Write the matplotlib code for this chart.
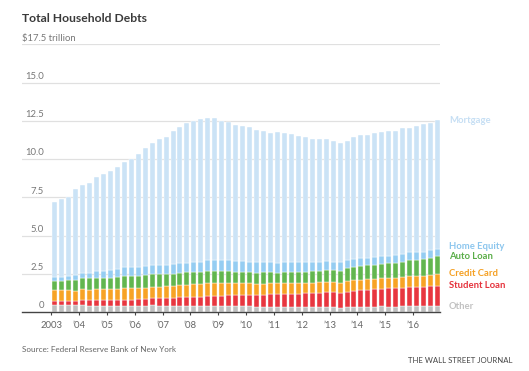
import numpy as np
import matplotlib
matplotlib.use("Agg")
import matplotlib.pyplot as plt
from matplotlib.transforms import blended_transform_factory

plt.rcParams['font.family'] = ['Lato', 'DejaVu Sans']

# Quarterly, 2003 Q1 .. 2016 Q4 (trillions of dollars)
years = ['2003', '\u201904', '\u201905', '\u201906', '\u201907', '\u201908', '\u201909',
         '\u201910', '\u201911', '\u201912', '\u201913', '\u201914', '\u201915', '\u201916']

other = [0.48, 0.49, 0.48, 0.45, 0.45, 0.42, 0.42, 0.42, 0.41, 0.42, 0.41, 0.42,
         0.42, 0.42, 0.44, 0.41, 0.42, 0.41, 0.42, 0.41, 0.42, 0.41, 0.42, 0.41,
         0.41, 0.41, 0.40, 0.39, 0.37, 0.35, 0.35, 0.34, 0.33, 0.33, 0.33, 0.33,
         0.33, 0.31, 0.31, 0.32, 0.31, 0.23, 0.31, 0.32, 0.33, 0.34, 0.35, 0.36,
         0.35, 0.35, 0.37, 0.38, 0.37, 0.38, 0.39, 0.39]
student_loan = [0.24, 0.24, 0.25, 0.25, 0.34, 0.35, 0.35, 0.36, 0.39, 0.39, 0.40, 0.39,
                0.43, 0.44, 0.45, 0.48, 0.51, 0.51, 0.53, 0.55, 0.58, 0.58, 0.61, 0.64,
                0.66, 0.68, 0.69, 0.72, 0.76, 0.76, 0.78, 0.81, 0.84, 0.85, 0.87, 0.87,
                0.90, 0.91, 0.96, 0.97, 0.99, 0.99, 1.03, 1.08, 1.11, 1.12, 1.13, 1.16,
                1.19, 1.19, 1.20, 1.23, 1.26, 1.26, 1.28, 1.31]
credit_card = [0.69, 0.69, 0.69, 0.70, 0.70, 0.70, 0.71, 0.72, 0.71, 0.72, 0.73, 0.74,
               0.72, 0.74, 0.75, 0.77, 0.76, 0.78, 0.80, 0.82, 0.82, 0.84, 0.85, 0.87,
               0.84, 0.82, 0.81, 0.80, 0.76, 0.74, 0.73, 0.73, 0.70, 0.70, 0.70, 0.70,
               0.68, 0.68, 0.67, 0.68, 0.66, 0.67, 0.67, 0.68, 0.66, 0.67, 0.68, 0.70,
               0.68, 0.70, 0.71, 0.73, 0.71, 0.73, 0.75, 0.78]
auto_loan = [0.64, 0.62, 0.68, 0.70, 0.72, 0.74, 0.75, 0.73, 0.73, 0.77, 0.83, 0.79,
             0.79, 0.80, 0.82, 0.82, 0.79, 0.81, 0.82, 0.81, 0.80, 0.81, 0.81, 0.79,
             0.78, 0.75, 0.74, 0.72, 0.71, 0.72, 0.73, 0.73, 0.71, 0.73, 0.73, 0.73,
             0.73, 0.75, 0.77, 0.78, 0.79, 0.81, 0.84, 0.86, 0.88, 0.91, 0.93, 0.95,
             0.96, 0.99, 1.02, 1.06, 1.07, 1.10, 1.14, 1.16]
home_equity = [0.24, 0.26, 0.27, 0.30, 0.33, 0.37, 0.43, 0.47, 0.50, 0.53, 0.54, 0.57,
               0.58, 0.59, 0.60, 0.60, 0.61, 0.61, 0.62, 0.63, 0.64, 0.66, 0.68, 0.70,
               0.71, 0.71, 0.71, 0.71, 0.68, 0.67, 0.66, 0.65, 0.64, 0.64, 0.63, 0.62,
               0.61, 0.60, 0.59, 0.56, 0.55, 0.54, 0.53, 0.53, 0.53, 0.52, 0.51, 0.51,
               0.51, 0.49, 0.49, 0.49, 0.49, 0.48, 0.47, 0.47]
mortgage = [4.93, 5.06, 5.13, 5.63, 5.73, 5.87, 6.16, 6.32, 6.45, 6.62, 6.87, 7.09,
            7.42, 7.74, 8.02, 8.21, 8.37, 8.70, 8.92, 9.11, 9.24, 9.29, 9.29, 9.25,
            9.11, 9.03, 8.90, 8.80, 8.79, 8.68, 8.58, 8.42, 8.52, 8.45, 8.40, 8.28,
            8.17, 8.08, 7.98, 8.03, 7.89, 7.84, 7.83, 8.00, 8.09, 8.04, 8.09, 8.10,
            8.13, 8.10, 8.23, 8.17, 8.29, 8.31, 8.30, 8.46]

series = [
    ('Other', other, '#bfbfbf', '#c2c2c2'),
    ('Student Loan', student_loan, '#e8363f', '#e5323c'),
    ('Credit Card', credit_card, '#f7a325', '#f5a023'),
    ('Auto Loan', auto_loan, '#62b64f', '#5aad48'),
    ('Home Equity', home_equity, '#95cdf2', '#8cc6ee'),
    ('Mortgage', mortgage, '#cbe3f6', '#c6dff4'),
]
label_y = {'Mortgage': 12.55, 'Home Equity': 4.30, 'Auto Loan': 3.64,
           'Credit Card': 2.52, 'Student Loan': 1.74, 'Other': 0.36}

W, H = 529, 371
fig = plt.figure(figsize=(W / 100, H / 100), dpi=100)
ax_l, ax_r, ax_b, ax_t = 22, 440, 312, 44.3
ax = fig.add_axes([ax_l / W, 1 - ax_b / H, (ax_r - ax_l) / W, (ax_b - ax_t) / H])

x = np.arange(len(mortgage))
bottom = np.zeros(len(x))
for name, vals, col, lcol in series:
    v = np.array(vals)
    ax.bar(x, v, bottom=bottom, width=0.72, color=col, edgecolor='white',
           linewidth=0.3, zorder=3)
    bottom += v

ax.set_xlim(-4.70, 55.36)
ax.set_ylim(0, 17.5)

# gridlines
for yv in [2.5, 5.0, 7.5, 10.0, 12.5, 15.0, 17.5]:
    ax.axhline(yv, color='#e0e0e0', lw=0.9, zorder=1)

for s in ['left', 'right', 'top']:
    ax.spines[s].set_visible(False)
ax.spines['bottom'].set_color('#444444')
ax.spines['bottom'].set_linewidth(1.0)
ax.spines['bottom'].set_zorder(4)

ax.set_yticks([])
ax.set_xticks(np.arange(len(years)) * 4 - 0.5)
ax.set_xticklabels(years, fontsize=6.8, color='#666666')
ax.tick_params(axis='x', length=2.5, width=0.8, color='#444444', pad=4)

# y labels
ytr = blended_transform_factory(fig.transFigure, ax.transData)
for yv, txt in [(0, '0'), (2.5, '2.5'), (5.0, '5.0'), (7.5, '7.5'), (10.0, '10.0'),
                (12.5, '12.5'), (15.0, '15.0')]:
    ax.text(44 / W, yv + 0.1, txt, transform=ytr, ha='right', va='bottom',
            fontsize=6.8, color='#777777')
ax.text(22.5 / W, 17.5 + 0.1, '$17.5 trillion', transform=ytr, ha='left', va='bottom',
        fontsize=6.8, color='#777777')

# right labels
for name, vals, col, lcol in series:
    ax.text(449 / W, label_y[name], name, transform=ytr, ha='left', va='center',
            fontsize=6.8, fontweight='bold', color=lcol)

fig.text(22.5 / W, 1 - 19 / H, 'Total Household Debts', ha='left', va='center',
         fontsize=8.7, fontweight='bold', color='#3a3a3a')
fig.text(22.5 / W, 1 - 349.5 / H, 'Source: Federal Reserve Bank of New York',
         ha='left', va='center', fontsize=5.9, color='#666666')
fig.text(512.5 / W, 1 - 360.5 / H, 'THE WALL STREET JOURNAL', ha='right', va='center',
         fontsize=5.6, color='#444444')

fig.savefig('out.png', dpi=100)
